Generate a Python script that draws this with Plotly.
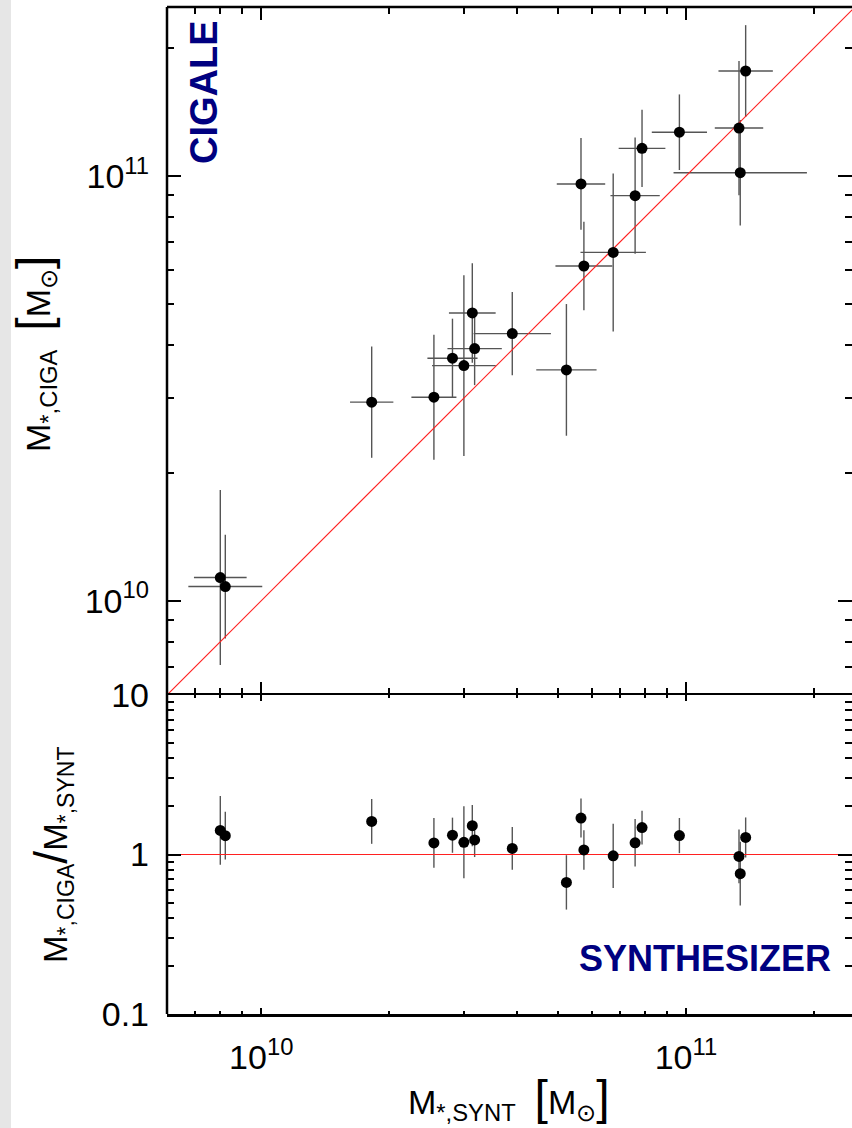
import numpy as np
import plotly.graph_objects as go

# ---------------- data ----------------
m_synt = [8.01e9, 8.23e9, 1.82e10, 2.55e10, 2.82e10, 3.00e10, 3.14e10, 3.18e10, 3.90e10,
          5.23e10, 5.75e10, 5.66e10, 6.74e10, 7.59e10, 7.88e10, 9.65e10, 1.382e11, 1.333e11, 1.342e11]
m_ciga = [1.134e10, 1.080e10, 2.935e10, 3.015e10, 3.725e10, 3.578e10, 4.76e10, 3.924e10, 4.256e10,
          3.496e10, 6.14e10, 9.58e10, 6.61e10, 8.99e10, 1.162e11, 1.268e11, 1.767e11, 1.297e11, 1.018e11]
err_synt_dex = [0.062, 0.087, 0.051, 0.053, 0.059, 0.075, 0.055, 0.064, 0.091, 0.071,
                0.067, 0.057, 0.077, 0.058, 0.055, 0.065, 0.064, 0.057, 0.157]
err_ciga_dex = [0.206, 0.122, 0.131, 0.147, 0.093, 0.213, 0.117, 0.086, 0.098, 0.155,
                0.104, 0.108, 0.186, 0.137, 0.091, 0.089, 0.108, 0.158, 0.124]

mass_limits = [6e9, 2.5e11]
ratio_limits = [0.1, 10]
mass_ticks = [1e10, 1e11]
mass_ticktext = ["10<sup>10</sup>", "10<sup>11</sup>"]
ratio_ticks = [0.1, 1, 10]
ratio_ticktext = ["0.1", "1", "10"]

# ---------------- derived quantities ----------------
xs = np.array(m_synt)
yc = np.array(m_ciga)
ex = np.array(err_synt_dex)
ey = np.array(err_ciga_dex)
ratio = yc / xs
er = np.sqrt(ex ** 2 + ey ** 2)


def up(v, e):
    return v * (10 ** e - 1)


def dn(v, e):
    return v * (1 - 10 ** (-e))


def minor_vals(lo_exp, hi_exp):
    out = []
    for p in range(lo_exp, hi_exp + 1):
        for k in range(2, 10):
            out.append(k * 10.0 ** p)
    return out


# ---------------- geometry ----------------
W, H = 852, 1128
L, R, T, B = 167, 0, 7, 114
PW = W - L - R          # 685
PH = H - T - B          # 1007
BOT_H = 319
split = BOT_H / PH
top_h = PH - BOT_H      # 688

lx0 = np.log10(mass_limits[0])
ly_span = np.log10(mass_limits[1]) - lx0
x_range = [lx0, lx0 + ly_span * PW / top_h]
y_range = [lx0, np.log10(mass_limits[1])]


def px_x(px):
    return (px - L) / PW


def px_y(py):
    return (H - B - py) / PH


FONT = "Liberation Sans"
ERRC = "#555555"

fig = go.Figure()

# top panel: error bars, 1:1 line, markers
fig.add_trace(go.Scatter(
    x=xs, y=yc, mode="markers", xaxis="x", yaxis="y",
    marker=dict(size=2, color="black", opacity=0),
    error_x=dict(type="data", symmetric=False, array=up(xs, ex), arrayminus=dn(xs, ex),
                 color=ERRC, thickness=1.4, width=0),
    error_y=dict(type="data", symmetric=False, array=up(yc, ey), arrayminus=dn(yc, ey),
                 color=ERRC, thickness=1.4, width=0),
    showlegend=False, hoverinfo="skip"))
fig.add_trace(go.Scatter(
    x=mass_limits, y=mass_limits, mode="lines", xaxis="x", yaxis="y",
    line=dict(color="#ff2020", width=1.2), showlegend=False, hoverinfo="skip"))
fig.add_trace(go.Scatter(
    x=xs, y=yc, mode="markers", xaxis="x", yaxis="y",
    marker=dict(size=11, color="black"), showlegend=False, hoverinfo="skip"))

# bottom panel
fig.add_trace(go.Scatter(
    x=xs, y=ratio, mode="markers", xaxis="x2", yaxis="y2",
    marker=dict(size=2, color="black", opacity=0),
    error_y=dict(type="data", symmetric=False, array=up(ratio, er), arrayminus=dn(ratio, er),
                 color=ERRC, thickness=1.4, width=0),
    showlegend=False, hoverinfo="skip"))
fig.add_trace(go.Scatter(
    x=mass_limits, y=[1, 1], mode="lines", xaxis="x2", yaxis="y2",
    line=dict(color="#ff2020", width=1.2), showlegend=False, hoverinfo="skip"))
fig.add_trace(go.Scatter(
    x=xs, y=ratio, mode="markers", xaxis="x2", yaxis="y2",
    marker=dict(size=11, color="black"), showlegend=False, hoverinfo="skip"))

tickfont = dict(family=FONT, size=34, color="black")
common_x = dict(type="log", range=x_range, linecolor="black", linewidth=2.5,
                mirror="ticks", ticks="inside", tickcolor="black", tickwidth=2,
                showgrid=False, zeroline=False, tickvals=mass_ticks, ticktext=mass_ticktext)

fig.update_layout(
    width=W, height=H,
    margin=dict(l=L, r=R, t=T, b=B, pad=0, autoexpand=False),
    paper_bgcolor="white", plot_bgcolor="white",
    xaxis=dict(common_x, domain=[0, 1], anchor="y", ticklen=13, showticklabels=False,
               showline=False,
               minor=dict(tickvals=minor_vals(9, 11), ticks="inside", ticklen=7,
                          tickcolor="black", tickwidth=2, showgrid=False)),
    yaxis=dict(type="log", range=y_range, domain=[split, 1], anchor="x",
               showline=False, mirror="ticks", ticks="inside", ticklen=14, tickwidth=2,
               tickcolor="black", showgrid=False, zeroline=False,
               tickvals=mass_ticks, ticktext=mass_ticktext, tickfont=tickfont,
               ticklabelstandoff=17,
               minor=dict(tickvals=minor_vals(9, 11), ticks="inside", ticklen=7,
                          tickcolor="black", tickwidth=2, showgrid=False)),
    xaxis2=dict(common_x, domain=[0, 1], anchor="y2", ticklen=6, tickfont=tickfont,
                showline=True, ticklabelstandoff=12,
                minor=dict(tickvals=minor_vals(9, 11), ticks="inside", ticklen=3,
                           tickcolor="black", tickwidth=2, showgrid=False)),
    yaxis2=dict(type="log", range=[np.log10(ratio_limits[0]), np.log10(ratio_limits[1])],
                domain=[0, split], anchor="x2",
                showline=False, mirror="ticks", ticks="inside", ticklen=14, tickwidth=2,
                tickcolor="black", showgrid=False, zeroline=False,
                tickvals=ratio_ticks, ticktext=ratio_ticktext, tickfont=tickfont,
                ticklabelstandoff=17,
                minor=dict(tickvals=minor_vals(-1, 0), ticks="inside", ticklen=7,
                           tickcolor="black", tickwidth=2, showgrid=False)),
    shapes=[
        dict(type="rect", xref="paper", yref="paper", x0=px_x(0), x1=px_x(11),
             y0=px_y(H), y1=px_y(0), fillcolor="#e6e6e6", line=dict(width=0), layer="below"),
        dict(type="line", xref="paper", yref="paper", x0=0, x1=0, y0=0, y1=1,
             line=dict(color="black", width=2.5)),
        dict(type="line", xref="paper", yref="paper", x0=0, x1=1, y0=1, y1=1,
             line=dict(color="black", width=2.5)),
    ],
    annotations=[
        dict(text="CIGALE", xref="paper", yref="paper", x=px_x(204.5), y=px_y(92.5),
             textangle=-90, showarrow=False, xanchor="center", yanchor="middle",
             font=dict(family=FONT, size=38, color="#000080", weight="bold")),
        dict(text="SYNTHESIZER", xref="paper", yref="paper", x=px_x(704.5), y=px_y(958),
             showarrow=False, xanchor="center", yanchor="middle",
             font=dict(family=FONT, size=36, color="#000080", weight="bold")),
        dict(text="M<sub>*,CIGA</sub>  <span style='font-size:48px'>[</span>M<sub>⊙</sub><span style='font-size:48px'>]</span>",
             xref="paper", yref="paper", x=px_x(34), y=px_y(354),
             textangle=-90, showarrow=False, xanchor="center", yanchor="middle",
             font=dict(family=FONT, size=34, color="black")),
        dict(text="M<sub>*,CIGA</sub><span style='font-size:46px'>/</span>M<sub>*,SYNT</sub>",
             xref="paper", yref="paper", x=px_x(52), y=px_y(855),
             textangle=-90, showarrow=False, xanchor="center", yanchor="middle",
             font=dict(family=FONT, size=33, color="black")),
        dict(text="M<sub>*,SYNT</sub>  <span style='font-size:48px'>[</span>M<sub>⊙</sub><span style='font-size:48px'>]</span>",
             xref="paper", yref="paper", x=px_x(509), y=px_y(1098),
             showarrow=False, xanchor="center", yanchor="middle",
             font=dict(family=FONT, size=34, color="black")),
    ],
)

fig.write_html("out.html", config={"displayModeBar": False, "staticPlot": True},
               post_script="document.body.style.margin='0';document.body.style.overflow='hidden';")
